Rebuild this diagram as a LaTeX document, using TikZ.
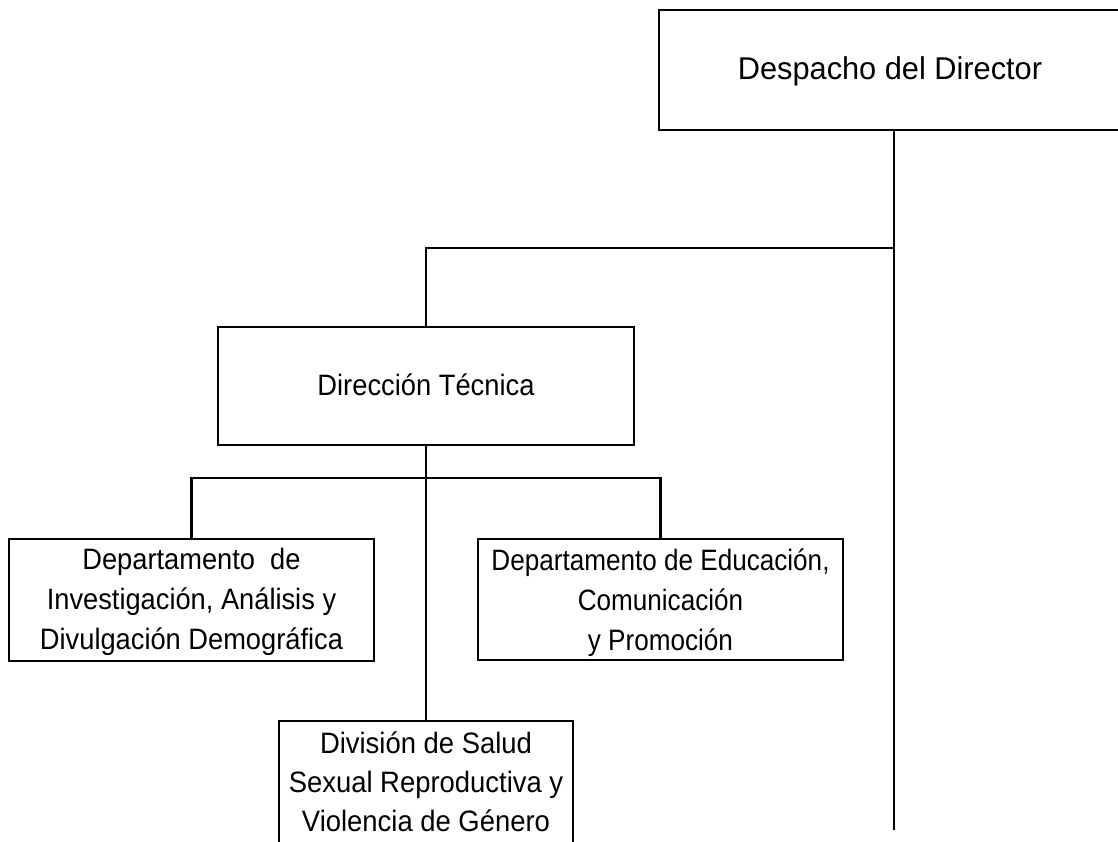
\documentclass[tikz,border=0pt]{standalone}
\usepackage{fontspec}
\setmainfont{Liberation Sans}
\newfontfamily\fdesp[FakeStretch=0.976]{Liberation Sans}
\newfontfamily\fdir[FakeStretch=0.926]{Liberation Sans}
\newfontfamily\fleft[FakeStretch=0.924]{Liberation Sans}
\newfontfamily\fright[FakeStretch=0.885]{Liberation Sans}
\newfontfamily\fdiv[FakeStretch=0.93]{Liberation Sans}
\newcommand\mystrut[2]{\rule[-#2pt]{0pt}{\dimexpr#1pt+#2pt\relax}}
\begin{document}
\begin{tikzpicture}[x=1pt,y=-1pt,
  box/.style={draw, line width=2.2pt, rectangle, inner sep=0pt, align=center},
  wire/.style={line width=2.2pt}]
\useasboundingbox (0,0) rectangle (1118,842);
\clip (0,0) rectangle (1118,842);

\node[box, minimum width=462pt, minimum height=120pt,
      font=\fdesp\fontsize{31.5}{38}\selectfont] (desp) at (890,70)
      {\mystrut{26}{2}Despacho del Director};

\node[box, minimum width=416pt, minimum height=118pt,
      font=\fdir\fontsize{29.5}{36}\selectfont] (dir) at (426,386)
      {\mystrut{24}{5}Dirección Técnica};

\node[box, minimum width=365pt, minimum height=122pt,
      font=\fleft\fontsize{29.5}{40}\selectfont] (left) at (191.5,600)
      {\mystrut{25}{3}Departamento \ de\\
       Investigación, Análisis y\\
       \mystrut{25}{3}Divulgación Demográfica};

\node[box, minimum width=365pt, minimum height=121pt,
      font=\fright\fontsize{29.5}{40}\selectfont] (right) at (660.5,599.5)
      {\mystrut{28}{1}Departamento de Educación,\\
       Comunicación\\
       \mystrut{28}{1}y Promoción};

\node[box, minimum width=294pt, minimum height=126pt,
      font=\fdiv\fontsize{29.5}{39}\selectfont] (div) at (426,784)
      {\mystrut{22}{6}División de Salud\\
       Sexual Reproductiva y\\
       \mystrut{22}{6}Violencia de Género};

\coordinate (mainend) at (894,830);
\coordinate (j1) at (894,248);
\coordinate (j2) at (426,478);

\draw[wire] (desp.south -| mainend) -- (mainend);
\draw[wire] (j1) -| (dir.north);
\draw[wire] (dir.south) -- (div.north);
\draw[wire] (left.north) |- (j2) -| (right.north);
\end{tikzpicture}
\end{document}
